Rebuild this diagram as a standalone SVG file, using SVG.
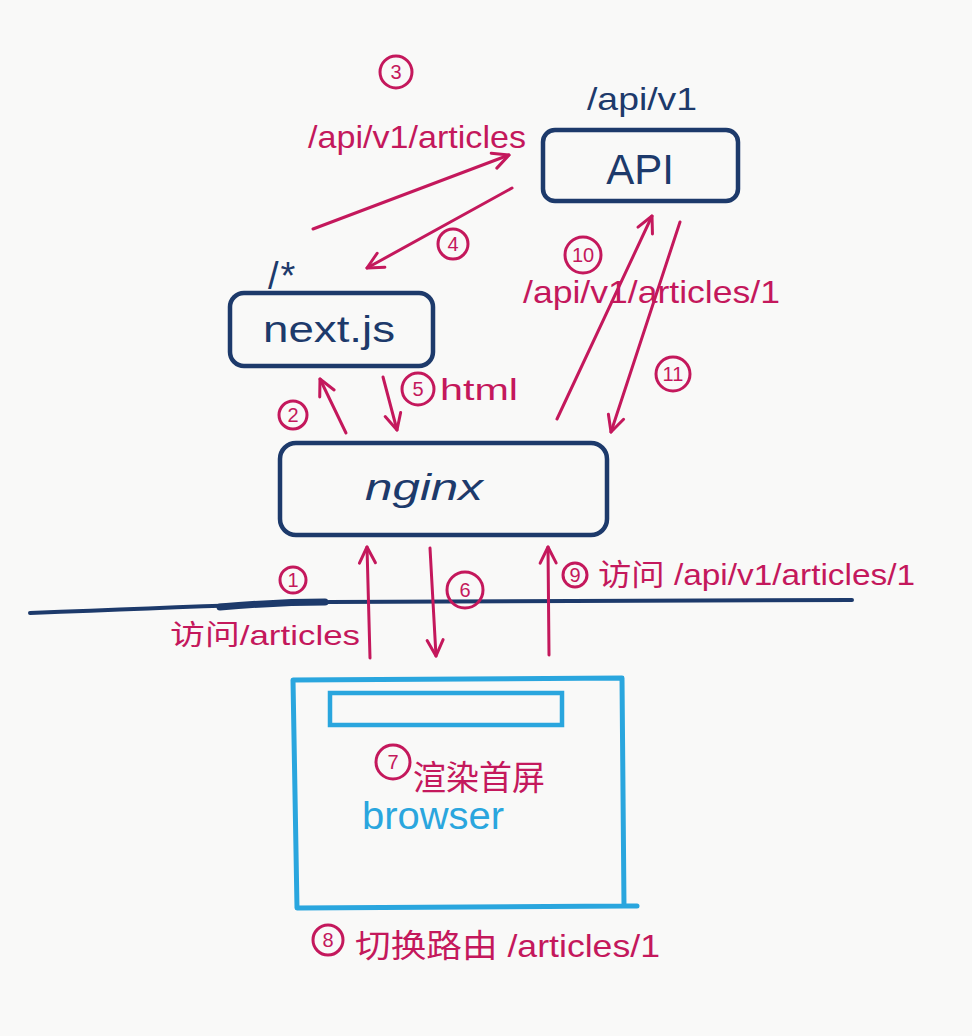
<svg xmlns="http://www.w3.org/2000/svg" width="972" height="1036" viewBox="0 0 972 1036">
<style>
.m{fill:#c4185c;font-family:"Liberation Sans","Noto Sans CJK SC",sans-serif}
.n{fill:#1d3a6b;font-family:"Liberation Sans",sans-serif}
.c{fill:none;stroke:#c4185c;stroke-width:3}
.cn{fill:#c4185c;font-family:"Liberation Sans",sans-serif;font-size:20px;text-anchor:middle}
.box{fill:none;stroke:#1d3a6b;stroke-width:4.5}
.ln{fill:none;stroke:#c4185c;stroke-width:3;stroke-linecap:round}
</style>
<defs>
<marker id="ah" viewBox="0 0 24 24" refX="21" refY="12" markerWidth="24" markerHeight="24" markerUnits="userSpaceOnUse" orient="auto">
<path d="M5,4 L21,12 L5,20" fill="none" stroke="#c4185c" stroke-width="3" stroke-linecap="round" stroke-linejoin="round"/>
</marker>
</defs>
<rect width="972" height="1036" fill="#f9f9f8"/>

<g id="api">
<rect class="box" x="543" y="130" width="195" height="71" rx="12"/>
<text class="n" x="640" y="184" font-size="42" text-anchor="middle">API</text>
<text class="n" x="587" y="110" font-size="32" textLength="110" lengthAdjust="spacingAndGlyphs">/api/v1</text>
</g>

<g id="nextjs">
<rect class="box" x="230" y="293" width="203" height="73" rx="14"/>
<text class="n" x="263" y="342" font-size="36" textLength="132" lengthAdjust="spacingAndGlyphs">next.js</text>
<text class="n" x="268" y="289" font-size="38" letter-spacing="2">/*</text>
</g>

<g id="nginx">
<rect class="box" x="280" y="443" width="327" height="92" rx="16"/>
<text class="n" x="365" y="500" font-size="36" font-style="italic" textLength="118" lengthAdjust="spacingAndGlyphs">nginx</text>
</g>

<g id="browser">
<path d="M293,680 L622,678 L624,906 L637,906 M624,906 L297,908 L293,680" fill="none" stroke="#2aa6de" stroke-width="5" stroke-linejoin="round" stroke-linecap="round"/>
<rect x="330" y="693" width="232" height="32" fill="none" stroke="#2aa6de" stroke-width="4.5"/>
<text x="362" y="829" font-size="38" fill="#2aa6de" font-family="Liberation Sans,sans-serif" textLength="142" lengthAdjust="spacingAndGlyphs">browser</text>
<circle class="c" cx="393" cy="762" r="17"/>
<text class="cn" x="393" y="769">7</text>
<text class="m" x="413" y="790" font-size="34" textLength="132" lengthAdjust="spacingAndGlyphs">渲染首屏</text>
<circle class="c" cx="328" cy="940" r="15"/>
<text class="cn" x="328" y="947">8</text>
<text class="m" x="355" y="957" font-size="32" textLength="305" lengthAdjust="spacingAndGlyphs">切换路由 /articles/1</text>
</g>

<g id="boundary">
<path d="M30,613 Q200,606 330,602 L852,600" fill="none" stroke="#1d3a6b" stroke-width="4" stroke-linecap="round"/>
<path d="M220,607 Q280,602 325,602" fill="none" stroke="#1d3a6b" stroke-width="7" stroke-linecap="round"/>
</g>

<g id="connectors">
<path class="ln" d="M313,229 L509,155" marker-end="url(#ah)"/>
<path class="ln" d="M512,188 L367,268" marker-end="url(#ah)"/>
<path class="ln" d="M346,433 L320,379" marker-end="url(#ah)"/>
<path class="ln" d="M383,377 L397,430" marker-end="url(#ah)"/>
<path class="ln" d="M557,419 L652,216" marker-end="url(#ah)"/>
<path class="ln" d="M680,222 L611,432" marker-end="url(#ah)"/>
<path class="ln" d="M370,658 L367,547" marker-end="url(#ah)"/>
<path class="ln" d="M430,548 L436,656" marker-end="url(#ah)"/>
<path class="ln" d="M549,655 L548,547" marker-end="url(#ah)"/>
</g>

<g id="labels">
<circle class="c" cx="396" cy="72" r="16"/>
<text class="cn" x="396" y="79">3</text>
<text class="m" x="308" y="148" font-size="32" textLength="218" lengthAdjust="spacingAndGlyphs">/api/v1/articles</text>
<circle class="c" cx="453" cy="244" r="15"/>
<text class="cn" x="453" y="251">4</text>
<circle class="c" cx="293" cy="415" r="14"/>
<text class="cn" x="293" y="422">2</text>
<circle class="c" cx="418" cy="389" r="16"/>
<text class="cn" x="418" y="396">5</text>
<text class="m" x="440" y="400" font-size="30" textLength="78" lengthAdjust="spacingAndGlyphs">html</text>
<circle class="c" cx="583" cy="255" r="18"/>
<text class="cn" x="583" y="262">10</text>
<text class="m" x="523" y="303" font-size="32" textLength="257" lengthAdjust="spacingAndGlyphs">/api/v1/articles/1</text>
<circle class="c" cx="673" cy="374" r="17"/>
<text class="cn" x="673" y="381">11</text>
<circle class="c" cx="293" cy="580" r="13"/>
<text class="cn" x="293" y="587">1</text>
<text class="m" x="170" y="645" font-size="28" textLength="190" lengthAdjust="spacingAndGlyphs">访问/articles</text>
<circle class="c" cx="465" cy="590" r="18"/>
<text class="cn" x="465" y="597">6</text>
<circle class="c" cx="575" cy="575" r="12"/>
<text class="cn" x="575" y="582" font-size="18">9</text>
<text class="m" x="598" y="585" font-size="30" textLength="317" lengthAdjust="spacingAndGlyphs">访问 /api/v1/articles/1</text>
</g>
</svg>
